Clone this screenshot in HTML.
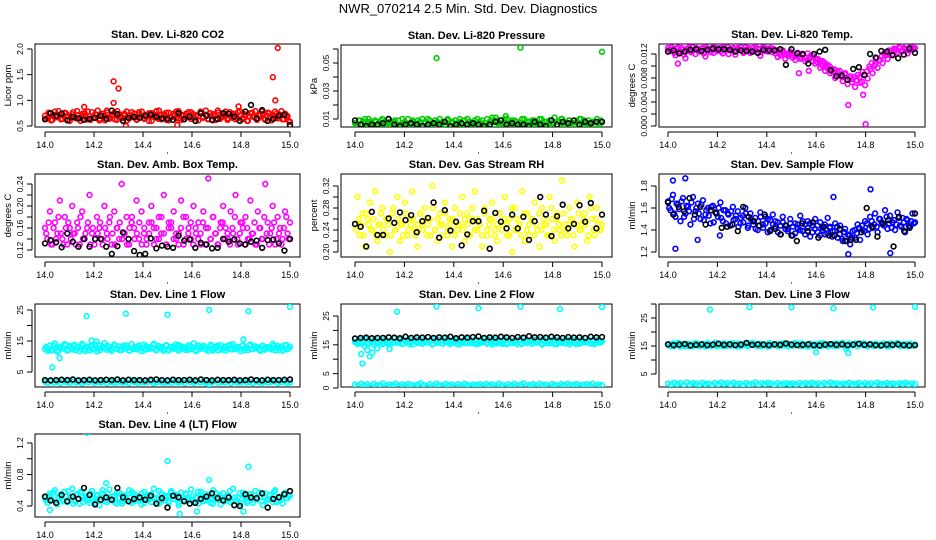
<!DOCTYPE html>
<html><head><meta charset="utf-8"><style>
body{margin:0;background:#fff;}
svg{display:block;font-family:"Liberation Sans",sans-serif;}
.t{font-weight:bold;font-size:11px;text-anchor:middle;}
.tk{font-size:9px;}
.yk{font-size:8.5px;}
</style></head><body>
<svg id="c" width="936" height="540">
<text x="468" y="13" font-size="13" text-anchor="middle">NWR_070214  2.5 Min. Std. Dev. Diagnostics</text>
</svg>
<script>
// ---------- data ----------
const xTicks=[14.0,14.2,14.4,14.6,14.8,15.0];
const xTickLabels=["14.0","14.2","14.4","14.6","14.8","15.0"];

const co2Red=[0.70,0.66,0.74,0.62,0.78,0.68,0.72,0.64,0.76,0.70,0.60,0.73,0.67,0.79,0.65,0.71,0.75,0.63,0.69,0.77,0.66,0.72,0.61,0.74,0.68,0.80,0.64,0.70,0.76,0.62,0.73,0.67,0.71,0.78,0.65,0.69,0.74,0.63,0.77,0.70,0.66,0.72,0.60,0.75,0.68,0.79,0.64,0.71,0.73,0.62,0.76,0.67,0.70,0.78,0.65,0.72,0.63,0.74,0.69,0.77,0.66,0.71,0.61,0.75,0.68,0.80,0.64,0.70,0.73,0.62,0.76,0.67,0.72,0.78,0.65,0.69,0.74,0.63,0.77,0.70,0.66,0.72,0.60,0.75,0.68,0.79,0.64,0.71,0.73,0.62,0.76,0.67,0.70,0.78,0.65,0.72,0.63,0.74,0.69,0.58];
const co2Red2=[0.64,0.76,0.61,0.72,0.67,0.79,0.63,0.70,0.75,0.62,0.68,0.77,0.65,0.71,0.60,0.74,0.69,0.78,0.62,0.66,0.73,0.80,0.64,0.70,0.61,0.76,0.67,0.72,0.63,0.79,0.68,0.65,0.74,0.61,0.71,0.77,0.66,0.62,0.73,0.78,0.64,0.69,0.75,0.60,0.72,0.66,0.80,0.63,0.70,0.76,0.61,0.68,0.74,0.65,0.79,0.62,0.71,0.67,0.77,0.64,0.73,0.60,0.69,0.78,0.66,0.72,0.63,0.75,0.61,0.70,0.80,0.64,0.68,0.74,0.62,0.77,0.66,0.71,0.65,0.79,0.63,0.73,0.60,0.69,0.76,0.67,0.62,0.72,0.78,0.64,0.70,0.75,0.61,0.68,0.74,0.66,0.79,0.63,0.71,0.60];
const co2Black=[0.63,0.75,0.70,0.74,0.61,0.68,0.65,0.62,0.64,0.66,0.70,0.64,0.80,0.73,0.60,0.66,0.68,0.66,0.70,0.72,0.68,0.65,0.64,0.62,0.75,0.63,0.68,0.60,0.75,0.70,0.62,0.64,0.75,0.74,0.68,0.60,0.78,0.91,0.65,0.81,0.60,0.64,0.70,0.72,0.52];
const co2OutX=[14.28,14.30,14.28,14.33,14.93,14.95,14.94,14.54,14.16,14.79];
const co2OutY=[1.37,1.23,0.95,0.50,1.45,2.02,1.00,0.52,0.87,0.88];

const presGreen=[0.007,0.005,0.009,0.006,0.010,0.004,0.008,0.006,0.009,0.005,0.007,0.010,0.006,0.004,0.008,0.007,0.009,0.005,0.006,0.010,0.008,0.004,0.007,0.009,0.005,0.006,0.008,0.010,0.007,0.004,0.009,0.006,0.005,0.008,0.010,0.007,0.006,0.009,0.004,0.008,0.005,0.007,0.010,0.006,0.009,0.004,0.008,0.007,0.005,0.010,0.006,0.009,0.007,0.004,0.008,0.011,0.006,0.009,0.005,0.007,0.010,0.006,0.004,0.008,0.009,0.005,0.007,0.010,0.006,0.008,0.004,0.009,0.007,0.005,0.010,0.006,0.008,0.004,0.009,0.007,0.011,0.005,0.008,0.010,0.006,0.004,0.009,0.007,0.005,0.008,0.010,0.006,0.009,0.004,0.007,0.008,0.005,0.010,0.006,0.008];
const presGreen2=[0.005,0.009,0.006,0.008,0.004,0.010,0.007,0.005,0.008,0.006,0.009,0.004,0.007,0.010,0.005,0.008,0.006,0.009,0.004,0.007,0.005,0.010,0.006,0.008,0.004,0.009,0.007,0.005,0.008,0.010,0.006,0.004,0.009,0.007,0.005,0.008,0.006,0.010,0.004,0.007,0.009,0.005,0.008,0.006,0.004,0.010,0.007,0.005,0.009,0.006,0.008,0.004,0.007,0.010,0.005,0.009,0.006,0.008,0.004,0.007,0.005,0.010,0.006,0.009,0.004,0.008,0.007,0.005,0.010,0.006,0.008,0.004,0.009,0.007,0.005,0.010,0.006,0.008,0.004,0.009,0.007,0.005,0.008,0.010,0.006,0.004,0.009,0.007,0.005,0.008,0.006,0.010,0.004,0.007,0.009,0.005,0.008,0.006,0.004,0.009];
const presBlack=[0.009,0.006,0.005,0.006,0.006,0.007,0.010,0.006,0.005,0.006,0.007,0.006,0.005,0.006,0.007,0.006,0.008,0.005,0.006,0.007,0.006,0.007,0.006,0.005,0.006,0.008,0.009,0.006,0.007,0.006,0.006,0.005,0.008,0.006,0.005,0.009,0.006,0.008,0.007,0.009,0.006,0.008,0.007,0.008,0.008];
const presOutX=[14.33,14.67,15.0,14.61,14.57];
const presOutY=[0.0535,0.0610,0.0580,0.012,0.011];

const tempMag=[0.0130,0.0125,0.0128,0.0118,0.0131,0.0122,0.0127,0.0113,0.0129,0.0124,0.0131,0.0120,0.0128,0.0126,0.0130,0.0116,0.0129,0.0123,0.0131,0.0127,0.0125,0.0130,0.0121,0.0128,0.0131,0.0126,0.0129,0.0119,0.0130,0.0127,0.0124,0.0131,0.0128,0.0122,0.0130,0.0126,0.0129,0.0117,0.0131,0.0125,0.0128,0.0130,0.0123,0.0127,0.0115,0.0122,0.0126,0.0112,0.0120,0.0124,0.0118,0.0110,0.0122,0.0115,0.0119,0.0108,0.0121,0.0113,0.0117,0.0104,0.0112,0.0097,0.0108,0.0092,0.0102,0.0088,0.0095,0.0080,0.0090,0.0084,0.0075,0.0088,0.0070,0.0083,0.0078,0.0065,0.0085,0.0072,0.0090,0.0068,0.0079,0.0095,0.0088,0.0103,0.0097,0.0110,0.0105,0.0118,0.0112,0.0124,0.0120,0.0128,0.0123,0.0130,0.0126,0.0129,0.0121,0.0131,0.0127,0.0130];
const tempMag2=[0.0127,0.0131,0.0122,0.0129,0.0125,0.0130,0.0119,0.0128,0.0131,0.0123,0.0127,0.0130,0.0124,0.0129,0.0121,0.0131,0.0126,0.0128,0.0122,0.0130,0.0129,0.0124,0.0131,0.0127,0.0120,0.0129,0.0130,0.0125,0.0128,0.0131,0.0122,0.0127,0.0130,0.0126,0.0124,0.0131,0.0128,0.0123,0.0129,0.0130,0.0124,0.0127,0.0129,0.0121,0.0125,0.0118,0.0123,0.0120,0.0117,0.0121,0.0114,0.0119,0.0116,0.0112,0.0118,0.0114,0.0110,0.0116,0.0108,0.0113,0.0106,0.0109,0.0100,0.0105,0.0096,0.0099,0.0090,0.0094,0.0086,0.0092,0.0081,0.0086,0.0078,0.0080,0.0073,0.0082,0.0076,0.0081,0.0074,0.0086,0.0091,0.0099,0.0105,0.0100,0.0113,0.0109,0.0116,0.0121,0.0118,0.0126,0.0124,0.0129,0.0127,0.0131,0.0124,0.0130,0.0128,0.0126,0.0131,0.0128];
const tempBlack=[0.0124,0.0126,0.0121,0.0124,0.0127,0.0128,0.0125,0.0127,0.0129,0.0128,0.0128,0.0127,0.0124,0.0126,0.0125,0.0124,0.0122,0.0127,0.0126,0.0126,0.0128,0.0102,0.0128,0.0121,0.0120,0.0104,0.0120,0.0124,0.0127,0.0093,0.0083,0.0084,0.0077,0.0095,0.0098,0.0085,0.0120,0.0114,0.0125,0.0124,0.0118,0.0113,0.0119,0.0129,0.0122];
const tempOutX=[14.73,14.80,14.79,14.04,14.53,14.57,14.64];
const tempOutY=[0.0035,0.0003,0.0052,0.0104,0.0088,0.0092,0.0100];

const ambMag=[0.16,0.14,0.19,0.13,0.17,0.15,0.21,0.14,0.18,0.13,0.16,0.20,0.15,0.17,0.13,0.19,0.14,0.16,0.22,0.15,0.13,0.18,0.16,0.14,0.20,0.15,0.17,0.13,0.19,0.16,0.14,0.24,0.15,0.18,0.13,0.17,0.16,0.21,0.14,0.19,0.15,0.13,0.17,0.20,0.16,0.14,0.18,0.15,0.22,0.13,0.17,0.16,0.19,0.14,0.15,0.21,0.13,0.18,0.16,0.14,0.20,0.15,0.17,0.13,0.19,0.16,0.25,0.14,0.18,0.15,0.13,0.17,0.20,0.16,0.14,0.19,0.15,0.22,0.13,0.17,0.16,0.18,0.14,0.21,0.15,0.13,0.19,0.16,0.14,0.24,0.17,0.15,0.20,0.13,0.18,0.16,0.14,0.19,0.15,0.17];
const ambMag2=[0.15,0.17,0.13,0.16,0.14,0.18,0.15,0.13,0.16,0.17,0.14,0.15,0.13,0.16,0.18,0.14,0.15,0.17,0.13,0.16,0.14,0.15,0.17,0.13,0.16,0.14,0.18,0.15,0.13,0.16,0.17,0.14,0.15,0.13,0.16,0.18,0.14,0.15,0.17,0.13,0.16,0.14,0.15,0.17,0.13,0.16,0.14,0.18,0.15,0.13,0.16,0.17,0.14,0.15,0.13,0.16,0.18,0.14,0.15,0.17,0.13,0.16,0.14,0.15,0.17,0.13,0.16,0.14,0.18,0.15,0.13,0.16,0.17,0.14,0.15,0.13,0.16,0.18,0.14,0.15,0.17,0.13,0.16,0.14,0.15,0.17,0.13,0.16,0.14,0.18,0.15,0.13,0.16,0.17,0.14,0.15,0.13,0.16,0.18,0.14];
const ambBlack=[0.132,0.138,0.134,0.125,0.150,0.135,0.126,0.140,0.126,0.140,0.140,0.126,0.113,0.127,0.152,0.140,0.118,0.111,0.113,0.141,0.123,0.128,0.126,0.124,0.146,0.137,0.139,0.124,0.133,0.130,0.123,0.124,0.140,0.135,0.139,0.132,0.130,0.135,0.137,0.124,0.138,0.139,0.132,0.119,0.140];

const rhYel=[0.25,0.30,0.23,0.27,0.21,0.26,0.29,0.24,0.31,0.22,0.25,0.28,0.23,0.26,0.20,0.27,0.24,0.30,0.22,0.25,0.29,0.23,0.26,0.31,0.24,0.21,0.27,0.25,0.28,0.23,0.26,0.32,0.24,0.22,0.27,0.25,0.29,0.23,0.26,0.21,0.28,0.24,0.25,0.30,0.22,0.27,0.23,0.26,0.31,0.24,0.25,0.21,0.28,0.23,0.26,0.29,0.24,0.22,0.27,0.25,0.30,0.23,0.26,0.20,0.28,0.24,0.25,0.31,0.22,0.27,0.23,0.26,0.29,0.24,0.21,0.28,0.25,0.23,0.30,0.26,0.22,0.27,0.24,0.33,0.25,0.23,0.28,0.26,0.21,0.29,0.24,0.25,0.27,0.22,0.30,0.26,0.23,0.28,0.24,0.25];
const rhYel2=[0.24,0.26,0.25,0.23,0.27,0.25,0.24,0.26,0.23,0.25,0.27,0.24,0.26,0.25,0.23,0.28,0.24,0.26,0.25,0.23,0.27,0.24,0.25,0.26,0.23,0.25,0.27,0.24,0.26,0.25,0.23,0.28,0.24,0.26,0.25,0.23,0.27,0.24,0.25,0.26,0.23,0.25,0.27,0.24,0.26,0.25,0.23,0.28,0.24,0.26,0.25,0.23,0.27,0.24,0.25,0.26,0.23,0.25,0.27,0.24,0.26,0.25,0.23,0.28,0.24,0.26,0.25,0.23,0.27,0.24,0.25,0.26,0.23,0.25,0.27,0.24,0.26,0.25,0.23,0.28,0.24,0.26,0.25,0.23,0.27,0.24,0.25,0.26,0.23,0.25,0.27,0.24,0.26,0.25,0.23,0.28,0.24,0.26,0.25,0.24];
const rhBlack=[0.251,0.246,0.210,0.273,0.231,0.231,0.261,0.253,0.272,0.258,0.267,0.236,0.256,0.262,0.290,0.226,0.276,0.239,0.255,0.212,0.232,0.256,0.256,0.275,0.206,0.271,0.255,0.243,0.268,0.243,0.264,0.222,0.256,0.300,0.268,0.229,0.265,0.286,0.243,0.251,0.285,0.255,0.289,0.243,0.268];

const flowBlue=[1.66,1.58,1.72,1.52,1.63,1.48,1.69,1.55,1.61,1.45,1.70,1.57,1.64,1.50,1.67,1.54,1.60,1.46,1.62,1.56,1.52,1.65,1.48,1.58,1.55,1.44,1.61,1.50,1.57,1.46,1.53,1.60,1.42,1.55,1.48,1.51,1.40,1.56,1.45,1.52,1.38,1.49,1.54,1.43,1.47,1.36,1.52,1.44,1.41,1.50,1.35,1.46,1.42,1.53,1.39,1.45,1.48,1.34,1.44,1.50,1.38,1.47,1.42,1.36,1.51,1.43,1.39,1.46,1.33,1.44,1.30,1.41,1.36,1.27,1.39,1.33,1.45,1.31,1.40,1.48,1.36,1.52,1.42,1.55,1.38,1.50,1.45,1.58,1.41,1.53,1.47,1.40,1.56,1.44,1.51,1.38,1.49,1.43,1.55,1.47];
const flowBlue2=[1.60,1.68,1.55,1.64,1.59,1.66,1.52,1.62,1.57,1.65,1.50,1.60,1.55,1.63,1.49,1.58,1.53,1.61,1.47,1.56,1.60,1.51,1.58,1.46,1.54,1.57,1.49,1.53,1.43,1.51,1.47,1.55,1.44,1.50,1.45,1.41,1.48,1.52,1.42,1.46,1.50,1.40,1.45,1.48,1.38,1.44,1.47,1.41,1.39,1.46,1.43,1.37,1.45,1.40,1.48,1.36,1.42,1.46,1.38,1.41,1.44,1.35,1.40,1.45,1.37,1.42,1.34,1.39,1.43,1.36,1.32,1.38,1.30,1.35,1.33,1.40,1.37,1.42,1.44,1.39,1.46,1.41,1.48,1.45,1.43,1.50,1.47,1.44,1.52,1.46,1.42,1.49,1.45,1.51,1.43,1.47,1.50,1.44,1.48,1.46];
const flowBlack=[1.65,1.54,1.61,1.57,1.69,1.54,1.61,1.45,1.58,1.55,1.42,1.43,1.45,1.39,1.61,1.52,1.48,1.44,1.54,1.39,1.41,1.36,1.44,1.35,1.30,1.46,1.39,1.47,1.33,1.43,1.35,1.35,1.41,1.30,1.31,1.31,1.38,1.60,1.43,1.34,1.46,1.49,1.25,1.52,1.39,1.42,1.55];
const flowOutX=[14.02,14.07,14.03,14.12,14.21,14.82,14.67,14.73,14.90];
const flowOutY=[1.85,1.87,1.23,1.31,1.35,1.77,1.70,1.18,1.19];

const l1Band=[12.5,11.8,13.6,12.1,14.2,11.5,13.0,12.7,14.0,11.9,13.4,12.3,13.8,12.9,11.7,14.1,12.4,13.2,12.0,13.7,12.6,11.6,13.5,12.8,14.3,12.2,13.1,11.8,13.9,12.5,13.3,12.1,13.6,12.7,11.9,14.0,12.4,13.2,12.9,11.7,13.8,12.3,13.0,12.6,14.1,12.0,13.4,12.8,11.8,13.7,12.2,13.1,12.5,13.9,11.9,13.3,12.7,12.1,13.6,12.4,14.2,11.7,13.0,12.9,13.5,12.2,11.8,13.8,12.6,13.2,12.0,13.7,12.8,11.9,13.4,12.3,14.0,12.5,13.1,11.7,13.6,12.7,12.1,13.9,12.4,13.3,12.9,11.8,13.5,12.2,13.0,12.6,14.1,12.0,13.4,12.8,11.9,13.7,12.3,13.2];
const l1Band2=[13.1,12.4,12.0,13.5,12.8,11.9,13.2,12.6,13.8,12.2,12.9,13.4,12.1,13.0,12.5,13.6,11.8,12.7,13.3,12.3,13.9,12.6,12.0,13.1,12.8,13.5,12.2,12.9,13.7,12.4,12.1,13.2,12.7,13.4,11.9,12.6,13.0,12.3,13.6,12.8,12.1,13.3,12.5,12.9,13.8,12.2,12.7,13.1,12.4,13.5,12.0,12.8,13.2,12.6,13.7,12.3,12.9,13.0,12.2,13.4,12.7,12.1,13.6,12.5,13.1,12.4,12.8,13.3,12.0,12.9,13.5,12.6,12.2,13.2,12.7,13.8,12.3,12.9,13.0,12.5,13.4,12.1,12.8,13.6,12.4,13.1,12.7,12.2,13.3,12.6,13.0,12.9,12.3,13.5,12.8,12.1,13.2,12.5,13.7,12.7];
const l1Low=[1.8,1.5,2.0,1.6,1.9,1.4,2.1,1.7,1.5,2.0,1.6,1.8,1.4,1.9,1.7,2.1,1.5,1.8,1.6,2.0,1.4,1.9,1.7,1.5,2.0,1.6,1.8,1.4,2.1,1.7,1.5,1.9,1.6,1.8,2.0,1.4,1.7,1.9,1.5,1.6,1.8,1.5,2.0,1.6,1.9,1.4,2.1,1.7,1.5,2.0,1.6,1.8,1.4,1.9,1.7,2.1,1.5,1.8,1.6,2.0,1.4,1.9,1.7,1.5,2.0,1.6,1.8,1.4,2.1,1.7,1.5,1.9,1.6,1.8,2.0,1.4,1.7,1.9,1.5,1.6];
const l1Black=[2.4,2.3,2.4,2.5,2.4,2.6,2.3,2.4,2.5,2.3,2.4,2.5,2.4,2.6,2.3,2.5,2.4,2.4,2.3,2.5,2.6,2.4,2.3,2.5,2.4,2.4,2.5,2.3,2.6,2.4,2.3,2.5,2.4,2.4,2.5,2.3,2.4,2.6,2.4,2.3,2.5,2.4,2.4,2.5,2.6];
const l1OutX=[14.17,14.33,14.50,14.67,14.83,15.00,14.03,14.06,14.19,14.81,14.21,14.67];
const l1OutY=[23.0,23.8,23.5,25.0,24.6,26.0,6.5,9.5,15.2,15.5,14.8,1.0];

const l2Band=[16.0,15.3,16.8,15.6,17.2,15.1,16.4,15.9,17.0,15.4,16.6,15.2,16.9,15.8,16.2,15.5,17.3,15.7,16.5,15.3,16.7,15.9,15.2,16.3,17.1,15.6,16.0,15.4,16.8,15.8,16.4,15.1,17.0,15.7,16.6,15.5,16.1,17.4,15.3,16.5,15.9,16.9,15.2,16.3,15.6,17.1,15.8,16.0,15.4,16.7,15.5,16.2,17.2,15.7,16.4,15.1,16.8,15.9,16.1,15.3,17.0,15.6,16.6,15.8,16.3,15.2,16.9,15.5,17.3,15.7,16.0,15.4,16.5,15.9,16.8,15.1,16.2,17.1,15.6,16.4,15.3,16.7,15.8,16.1,15.5,16.9,15.2,16.6,15.7,16.3,15.4,17.0,15.9,16.0,15.6,16.5,15.3,16.8,15.8,16.2];
const l2Band2=[15.7,16.5,15.4,16.1,16.9,15.6,16.3,15.2,16.7,15.9,16.0,15.5,16.8,15.3,16.4,15.8,16.2,15.6,17.0,15.4,16.1,15.9,16.6,15.2,16.3,15.7,16.9,15.5,16.0,15.8,16.5,15.3,16.2,15.6,16.8,15.4,16.4,15.9,16.1,15.7,16.6,15.2,16.3,15.8,17.0,15.5,16.0,15.6,16.7,15.3,16.2,15.9,16.4,15.4,16.8,15.7,16.1,15.5,16.5,15.8,16.3,15.2,16.9,15.6,16.0,15.9,16.6,15.3,16.2,15.7,16.4,15.5,16.8,15.8,16.1,15.4,16.5,15.6,16.3,15.9,17.0,15.2,16.0,15.7,16.6,15.5,16.2,15.8,16.7,15.3,16.4,15.6,16.1,15.9,16.5,15.4,16.3,15.7,16.8,15.8];
const l2Low=[1.2,0.8,1.5,1.0,1.3,0.7,1.4,0.9,1.1,1.6,0.8,1.2,1.0,1.5,0.7,1.3,0.9,1.4,1.1,0.8,1.2,1.6,1.0,0.7,1.3,0.9,1.5,1.1,0.8,1.4,1.0,1.2,0.7,1.3,0.9,1.5,1.1,0.8,1.2,1.0,1.3,0.9,1.4,1.0,1.2,0.8,1.5,1.1,0.7,1.3,1.0,1.4,0.9,1.2,1.6,0.8,1.1,1.3,0.9,1.5,1.0,1.2,0.7,1.4,1.1,0.8,1.3,1.0,1.5,0.9,1.2,1.4,0.8,1.1,1.3,1.0,1.5,0.9,1.2,1.0];
const l2Black=[17.2,17.4,17.5,17.3,17.4,17.4,17.6,17.5,17.3,17.8,17.4,17.6,17.5,17.7,17.4,17.6,17.5,17.8,17.3,17.6,17.5,17.7,17.9,17.4,17.6,17.5,17.8,17.6,17.4,17.7,17.5,18.0,17.6,17.7,17.5,17.8,17.6,17.4,17.7,17.5,17.6,17.4,17.8,17.6,17.7];
const l2OutX=[14.17,14.33,14.50,14.67,14.83,15.00,14.03,14.025,14.05,14.07,14.04,14.09,14.14,14.06];
const l2OutY=[26.5,28.3,27.7,28.2,27.4,28.1,8.5,11.8,13.2,12.3,14.5,13.8,13.5,11.0];

const l3Band=[15.5,14.9,15.9,15.2,16.1,14.8,15.6,15.0,15.8,15.3,14.9,16.0,15.4,15.1,15.7,14.8,15.9,15.2,15.5,16.2,15.0,15.6,14.9,15.8,15.3,15.1,16.0,15.4,14.8,15.7,15.2,15.9,15.0,15.5,16.1,15.3,14.9,15.8,15.1,15.6,14.8,16.0,15.4,15.2,15.7,15.0,15.9,15.3,14.9,15.6,15.1,16.1,15.5,15.0,15.8,15.2,14.8,15.9,15.4,15.1,15.7,15.0,16.0,15.3,14.9,15.6,15.2,15.8,15.0,15.5,16.2,15.1,14.8,15.7,15.3,15.9,15.0,15.4,16.0,15.2,14.9,15.6,15.1,15.8,15.3,15.0,15.7,15.4,14.8,15.9,15.2,15.5,16.1,15.0,15.6,15.3,14.9,15.8,15.1,15.5];
const l3Band2=[15.2,15.7,15.0,15.5,15.9,15.1,15.4,15.8,14.9,15.6,15.3,16.0,15.0,15.5,15.2,15.8,15.4,14.9,15.7,15.1,15.6,15.3,15.9,15.0,15.4,15.7,15.2,15.5,15.8,15.0,15.3,15.6,15.1,15.9,15.4,15.2,15.7,15.0,15.5,15.3,15.8,15.1,15.6,15.4,15.0,15.7,15.2,15.5,15.9,15.3,15.0,15.6,15.4,15.8,15.1,15.5,15.2,15.7,15.0,15.6,15.3,15.9,15.1,15.4,15.7,15.2,15.5,15.0,15.8,15.3,15.6,15.1,15.4,15.9,15.2,15.7,15.0,15.5,15.3,15.8,15.1,15.6,15.4,15.0,15.7,15.2,15.5,15.9,15.3,15.0,15.6,15.4,15.8,15.1,15.5,15.2,15.7,15.3,15.6,15.4];
const l3Low=[1.6,1.2,1.9,1.4,1.7,1.1,2.0,1.3,1.8,1.5,1.2,1.9,1.4,1.6,1.1,1.8,1.3,2.0,1.5,1.7,1.2,1.9,1.4,1.6,1.1,1.8,1.3,1.5,2.0,1.2,1.7,1.4,1.9,1.6,1.1,1.8,1.3,1.5,1.7,1.4,1.6,1.3,1.8,1.2,1.7,1.5,1.9,1.4,1.6,1.1,1.8,1.3,2.0,1.5,1.7,1.2,1.6,1.4,1.9,1.3,1.5,1.8,1.2,1.7,1.4,1.6,1.1,1.9,1.5,1.3,1.8,1.4,1.6,1.2,1.7,1.5,1.9,1.3,1.6,1.4];
const l3Black=[15.6,15.3,15.5,15.7,15.2,15.4,15.6,15.3,15.5,15.8,15.4,15.6,15.3,15.5,16.1,15.4,15.6,15.5,15.3,15.6,15.4,15.9,15.5,15.3,15.4,15.6,15.3,15.2,15.5,15.7,15.4,15.6,15.3,15.5,15.8,15.4,15.6,15.3,15.2,15.5,15.4,15.6,15.3,15.2,15.3];
const l3OutX=[14.17,14.33,14.50,14.67,14.83,15.00,14.60,14.73,14.72];
const l3OutY=[28.0,28.9,28.8,28.5,28.8,29.0,12.8,12.5,14.0];

const l4Band=[0.50,0.44,0.56,0.47,0.60,0.42,0.53,0.48,0.58,0.45,0.51,0.62,0.46,0.55,0.43,0.57,0.49,0.52,0.44,0.59,0.47,0.54,0.41,0.56,0.50,0.45,0.61,0.48,0.53,0.43,0.57,0.46,0.52,0.49,0.60,0.44,0.55,0.47,0.51,0.42,0.58,0.48,0.54,0.45,0.62,0.50,0.43,0.56,0.47,0.53,0.44,0.59,0.49,0.52,0.41,0.57,0.46,0.55,0.48,0.61,0.45,0.51,0.43,0.58,0.50,0.47,0.54,0.44,0.60,0.49,0.52,0.42,0.56,0.48,0.53,0.45,0.62,0.47,0.51,0.43,0.57,0.50,0.46,0.55,0.44,0.59,0.48,0.52,0.41,0.56,0.49,0.54,0.45,0.60,0.47,0.51,0.43,0.57,0.50,0.53];
const l4Band2=[0.47,0.53,0.49,0.57,0.44,0.51,0.55,0.46,0.52,0.59,0.48,0.43,0.54,0.50,0.58,0.45,0.52,0.47,0.56,0.49,0.44,0.53,0.51,0.60,0.46,0.55,0.48,0.52,0.45,0.57,0.50,0.43,0.54,0.47,0.51,0.58,0.46,0.53,0.49,0.56,0.44,0.52,0.48,0.55,0.50,0.45,0.59,0.47,0.53,0.51,0.46,0.57,0.49,0.54,0.44,0.52,0.48,0.56,0.50,0.47,0.53,0.45,0.58,0.51,0.46,0.55,0.49,0.52,0.43,0.57,0.48,0.54,0.50,0.46,0.53,0.59,0.47,0.51,0.45,0.56,0.49,0.52,0.44,0.55,0.48,0.53,0.50,0.57,0.46,0.51,0.47,0.54,0.49,0.58,0.45,0.52,0.48,0.55,0.50,0.53];
const l4Black=[0.52,0.47,0.44,0.54,0.46,0.52,0.49,0.63,0.54,0.42,0.48,0.51,0.48,0.63,0.51,0.46,0.49,0.51,0.48,0.53,0.43,0.50,0.38,0.53,0.51,0.46,0.43,0.44,0.49,0.52,0.56,0.50,0.47,0.51,0.41,0.40,0.55,0.51,0.50,0.56,0.38,0.49,0.51,0.55,0.59];
const l4OutX=[14.17,14.50,14.83,14.55,14.02,14.62,14.81,14.67,14.25];
const l4OutY=[1.33,0.97,0.90,0.30,0.35,0.33,0.33,0.73,0.69];

// ---------- panels (layout) ----------
const svg=document.getElementById('c');
const NS='http://www.w3.org/2000/svg';
function mk(tag,attrs,parent){const e=document.createElementNS(NS,tag);for(const k in attrs)e.setAttribute(k,attrs[k]);(parent||svg).appendChild(e);return e;}

function panel(name,title,ylab,bx0,by0,bx1,by1,xa,xb,v1,p1,v2,p2,ticks,labels){
  const g=mk('g',{});
  
  
  const P={g,xs:v=>xa+(v-14)*(xb-xa),ys:v=>p1+(v-v1)*(p2-p1)/(v2-v1)};
  mk('text',{x:(bx0+bx1)/2,y:by0-6,class:'t'},g).textContent=title;
  const r=mk('rect',{x:bx0,y:by0,width:bx1-bx0,height:by1-by0,fill:'none',stroke:'#000','stroke-width':1},g);
  
  
  const xg=mk('g',{},g);
  
  
  mk('line',{x1:P.xs(14),x2:P.xs(15),y1:by1+5,y2:by1+5,stroke:'#000'},xg);
  xTicks.forEach((t,i)=>{const x=P.xs(t);
    mk('line',{x1:x,x2:x,y1:by1+5,y2:by1+10,stroke:'#000'},xg);
    mk('text',{x:x,y:by1+21,class:'tk','text-anchor':'middle'},xg).textContent=xTickLabels[i];});
  mk('circle',{cx:P.xs(14.5),cy:by1+26,r:0.6,fill:'#000'},xg);
  const yg=mk('g',{},g);
  
  
  const ax=bx0-3;
  mk('line',{x1:ax,x2:ax,y1:P.ys(ticks[0]),y2:P.ys(ticks[ticks.length-1]),stroke:'#000'},yg);
  ticks.forEach(t=>{const y=P.ys(t);mk('line',{x1:ax-5,x2:ax,y1:y,y2:y,stroke:'#000'},yg);});
  labels.forEach(l=>{const y=P.ys(parseFloat(l));
    mk('text',{x:0,y:0,class:'yk','text-anchor':'middle',transform:`translate(${ax-9},${y}) rotate(-90)`},yg).textContent=l;});
  const yt=mk('text',{x:0,y:0,'font-size':9.5,'text-anchor':'middle',transform:`translate(${bx0-24},${(by0+by1)/2}) rotate(-90)`},g);
  yt.textContent=ylab;
  
  
  const cl='cl'+name;
  const cp=mk('clipPath',{id:cl},g);mk('rect',{x:bx0,y:by0,width:bx1-bx0,height:by1-by0},cp);
  P.pts=mk('g',{'clip-path':`url(#${cl})`},g);
  return P;
}
function series(P,name,vals,color,off){
  const g=mk('g',{},P.pts);
  
  
  const o=off||0;
  vals.forEach((v,i)=>{mk('circle',{cx:P.xs(14+(i+o)/(vals.length-1+o*2)),cy:P.ys(v),r:2.4,fill:'none',stroke:color,'stroke-width':1.6},g);});
}
function outl(P,name,xsA,ysA,color){
  const g=mk('g',{},P.pts);
  
  
  xsA.forEach((x,i)=>{mk('circle',{cx:P.xs(x),cy:P.ys(ysA[i]),r:2.4,fill:'none',stroke:color,'stroke-width':1.6},g);});
}
const R='#ff0000',G='#00cc00',M='#ff00ff',Y='#ffff00',B='#0000ff',C='#00ffff',K='#000';

let P;
P=panel('co2','Stan. Dev. Li-820 CO2','Licor ppm',35,44,300,127,45,290,0.5,126,2.0,49,[0.5,1,1.5,2],['0.5','1.0','1.5','2.0']);
series(P,'co2-red-series',co2Red,R);series(P,'co2-red-series-2',co2Red2,R,0.5);outl(P,'co2-red-outliers',co2OutX,co2OutY,R);series(P,'co2-black-series',co2Black,K);

P=panel('pres','Stan. Dev. Li-820 Pressure','kPa',341,45,612,127,355,602,0.01,119,0.05,63,[0.01,0.02,0.03,0.04,0.05,0.06],['0.01','0.03','0.05']);
series(P,'pressure-green-series',presGreen,G);series(P,'pressure-green-series-2',presGreen2,G,0.5);outl(P,'pressure-green-outliers',presOutX,presOutY,G);series(P,'pressure-black-series',presBlack,K);

P=panel('temp','Stan. Dev. Li-820 Temp.','degrees C',659,44,925,127,668,915,0,126,0.012,54,[0,0.002,0.004,0.006,0.008,0.010,0.012],['0.000','0.004','0.008','0.012']);
series(P,'temp-magenta-series',tempMag,M);series(P,'temp-magenta-series-2',tempMag2,M,0.5);outl(P,'temp-magenta-outliers',tempOutX,tempOutY,M);series(P,'temp-black-series',tempBlack,K);

P=panel('amb','Stan. Dev. Amb. Box Temp.','degrees C',35,174,300,257,45,290,0.12,250,0.24,184,[0.12,0.14,0.16,0.18,0.20,0.22,0.24],['0.12','0.16','0.20','0.24']);
series(P,'amb-magenta-series',ambMag,M);series(P,'amb-magenta-series-2',ambMag2,M,0.5);series(P,'amb-black-series',ambBlack,K);

P=panel('rh','Stan. Dev. Gas Stream RH','percent',341,174,612,257,355,602,0.20,252,0.32,186,[0.20,0.22,0.24,0.26,0.28,0.30,0.32],['0.20','0.24','0.28','0.32']);
series(P,'rh-yellow-series',rhYel,Y);series(P,'rh-yellow-series-2',rhYel2,Y,0.5);series(P,'rh-black-series',rhBlack,K);

P=panel('flow','Stan. Dev. Sample Flow','ml/min',659,174,925,257,668,915,1.2,252,1.8,186,[1.2,1.4,1.6,1.8],['1.2','1.4','1.6','1.8']);
series(P,'flow-blue-series',flowBlue,B);series(P,'flow-blue-series-2',flowBlue2,B,0.5);outl(P,'flow-blue-outliers',flowOutX,flowOutY,B);series(P,'flow-black-series',flowBlack,K);

P=panel('l1','Stan. Dev. Line 1 Flow','ml/min',35,304,300,387,45,290,5,372,25,310,[5,10,15,20,25],['5','15','25']);
series(P,'line1-cyan-band',l1Band,C);series(P,'line1-cyan-band-2',l1Band2,C,0.5);series(P,'line1-cyan-low',l1Low,C);outl(P,'line1-cyan-outliers',l1OutX,l1OutY,C);series(P,'line1-black-series',l1Black,K);

P=panel('l2','Stan. Dev. Line 2 Flow','ml/min',341,304,612,387,355,602,0,388,25,316,[0,5,10,15,20,25],['0','5','15','25']);
series(P,'line2-cyan-band',l2Band,C);series(P,'line2-cyan-band-2',l2Band2,C,0.5);series(P,'line2-cyan-low',l2Low,C);outl(P,'line2-cyan-outliers',l2OutX,l2OutY,C);series(P,'line2-black-series',l2Black,K);

P=panel('l3','Stan. Dev. Line 3 Flow','ml/min',659,304,925,387,668,915,5,374,25,318,[5,10,15,20,25,30],['5','15','25']);
series(P,'line3-cyan-band',l3Band,C);series(P,'line3-cyan-band-2',l3Band2,C,0.5);series(P,'line3-cyan-low',l3Low,C);outl(P,'line3-cyan-outliers',l3OutX,l3OutY,C);series(P,'line3-black-series',l3Black,K);

P=panel('l4','Stan. Dev. Line 4 (LT) Flow','ml/min',35,434,300,517,45,290,0.4,506,1.2,443,[0.4,0.6,0.8,1.0,1.2],['0.4','0.8','1.2']);
series(P,'line4-cyan-band',l4Band,C);series(P,'line4-cyan-band-2',l4Band2,C,0.5);outl(P,'line4-cyan-outliers',l4OutX,l4OutY,C);series(P,'line4-black-series',l4Black,K);
</script>
</body></html>
